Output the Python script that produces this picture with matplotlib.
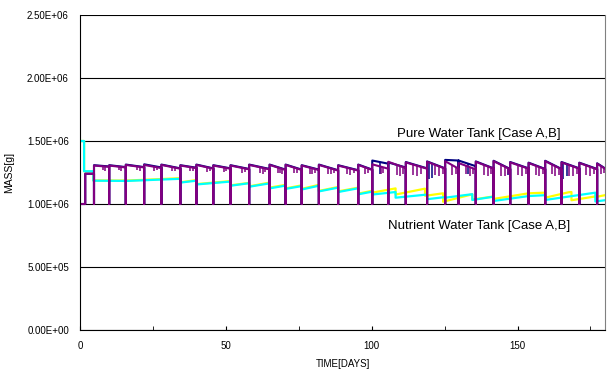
import numpy as np
import matplotlib
matplotlib.use("Agg")
import matplotlib.pyplot as plt

plt.rcParams['font.family'] = ['Liberation Sans', 'DejaVu Sans']

# ---- data (mass in 1e6 g, time in days) ----
# pure water tank: refill days, mass right after refill, mass just before next refill
refill_day = [4.8, 10.0, 15.7, 22.0, 27.9, 34.4, 39.9, 45.7, 51.6, 58.0,
              65.0, 70.5, 76.0, 81.9, 88.5, 95.4, 100.2, 105.7, 111.7, 119.0,
              125.2, 129.8, 135.7, 141.8, 147.5, 153.8, 159.5, 165.1, 171.2, 177.3]
caseB_start = [1.305, 1.305, 1.31, 1.31, 1.31, 1.305, 1.31, 1.305, 1.305, 1.31,
               1.31, 1.31, 1.305, 1.31, 1.305, 1.31, 1.315, 1.335, 1.33, 1.335,
               1.34, 1.325, 1.335, 1.34, 1.33, 1.325, 1.34, 1.33, 1.325, 1.32]
caseB_end = [1.295, 1.29, 1.29, 1.285, 1.28, 1.285, 1.28, 1.28, 1.275, 1.275,
             1.27, 1.27, 1.27, 1.265, 1.265, 1.27, 1.28, 1.285, 1.28, 1.28,
             1.28, 1.275, 1.28, 1.275, 1.28, 1.275, 1.275, 1.28, 1.275, 1.28]
caseA_start = [1.308, 1.308, 1.313, 1.315, 1.313, 1.308, 1.313, 1.308, 1.308, 1.313,
               1.313, 1.313, 1.308, 1.313, 1.308, 1.313, 1.345, 1.33, 1.333, 1.338,
               1.35, 1.345, 1.338, 1.343, 1.333, 1.328, 1.343, 1.333, 1.328, 1.323]
caseA_end = [1.298, 1.293, 1.293, 1.29, 1.283, 1.288, 1.283, 1.283, 1.278, 1.278,
             1.273, 1.273, 1.273, 1.268, 1.268, 1.273, 1.32, 1.29, 1.283, 1.283,
             1.345, 1.30, 1.283, 1.278, 1.283, 1.278, 1.278, 1.283, 1.278, 1.283]

# short downward spikes in the pure water tank
caseB_dip_day = [7.8, 8.6, 13.3, 14.2, 19.6, 20.5, 25.4, 26.3, 31.6, 32.5,
                 37.8, 38.6, 43.5, 44.4, 49.3, 50.2, 55.5, 56.4, 61.8, 62.6,
                 63.5, 67.8, 68.6, 69.4, 73.5, 74.4, 78.8, 79.6, 80.6, 85.0,
                 86.0, 87.0, 91.5, 92.6, 93.8, 97.8, 98.8, 103.2, 104.0, 108.6,
                 109.8, 110.8, 114.2, 115.6, 117.0, 121.8, 123.2, 124.3, 127.5, 128.8,
                 132.2, 133.6, 134.8, 138.6, 139.8, 140.9, 144.2, 145.6, 146.7, 150.2,
                 151.6, 152.8, 156.2, 157.4, 158.6, 161.8, 163.0, 164.2, 167.6, 168.9,
                 170.3, 173.6, 174.9, 176.3, 178.6, 179.6]
caseB_dip_mass = [1.27, 1.265, 1.27, 1.265, 1.27, 1.265, 1.265, 1.27, 1.265, 1.26,
                  1.26, 1.265, 1.255, 1.26, 1.255, 1.26, 1.25, 1.255, 1.25, 1.24,
                  1.255, 1.245, 1.25, 1.24, 1.245, 1.25, 1.24, 1.235, 1.25, 1.24,
                  1.235, 1.25, 1.24, 1.23, 1.245, 1.24, 1.245, 1.235, 1.25, 1.23,
                  1.225, 1.24, 1.23, 1.22, 1.235, 1.23, 1.22, 1.24, 1.23, 1.235,
                  1.24, 1.225, 1.235, 1.23, 1.22, 1.235, 1.225, 1.22, 1.235, 1.23,
                  1.225, 1.24, 1.23, 1.22, 1.235, 1.235, 1.225, 1.23, 1.225, 1.22,
                  1.235, 1.23, 1.225, 1.235, 1.24, 1.245]
caseA_dip_day = [103.0, 119.5, 120.8, 133.0, 146.8, 165.6, 166.8]
caseA_dip_mass = [1.24, 1.20, 1.21, 1.24, 1.23, 1.20, 1.22]

# nutrient water tank
nutA_day = [0, 1.4, 1.4, 4.6, 4.6, 16.0, 34.4, 34.4, 39.9, 39.9,
            51.6, 51.6, 58.0, 58.0, 65.0, 65.0, 70.5, 70.5, 76.0, 76.0,
            81.9, 81.9, 88.5, 88.5, 95.4, 95.4, 100.2, 100.2, 108.2, 108.2,
            119.0, 119.0, 125.2, 125.2, 134.5, 134.5, 141.8, 141.8, 153.8, 159.5,
            159.5, 176.7, 176.7, 180.0]
nutA_mass = [1.5, 1.5, 1.26, 1.26, 1.185, 1.183, 1.2, 1.17, 1.185, 1.155,
             1.178, 1.145, 1.165, 1.137, 1.164, 1.124, 1.146, 1.12, 1.142, 1.115,
             1.145, 1.1, 1.13, 1.095, 1.125, 1.077, 1.098, 1.075, 1.095, 1.05,
             1.075, 1.038, 1.055, 1.05, 1.078, 1.032, 1.058, 1.024, 1.063, 1.07,
             1.032, 1.09, 1.02, 1.03]
nutB_day = [0, 1.4, 1.4, 4.6, 4.6, 16.0, 34.4, 34.4, 39.9, 39.9,
            51.6, 51.6, 58.0, 58.0, 65.0, 65.0, 70.5, 70.5, 76.0, 76.0,
            81.9, 81.9, 88.5, 88.5, 95.4, 95.4, 100.2, 100.2, 108.2, 108.2,
            118.3, 118.3, 124.5, 124.5, 134.5, 134.5, 141.8, 141.8, 153.8, 159.5,
            159.5, 167.5, 168.5, 168.5, 176.7, 176.7, 180.0]
nutB_mass = [1.5, 1.5, 1.26, 1.26, 1.187, 1.186, 1.205, 1.172, 1.19, 1.158,
             1.182, 1.148, 1.168, 1.14, 1.17, 1.13, 1.152, 1.124, 1.148, 1.12,
             1.152, 1.104, 1.135, 1.1, 1.13, 1.082, 1.105, 1.09, 1.124, 1.075,
             1.122, 1.065, 1.085, 1.018, 1.077, 1.035, 1.06, 1.04, 1.085, 1.09,
             1.05, 1.093, 1.095, 1.03, 1.06, 1.055, 1.07]

pure_first_day = [0, 1.8, 1.8]
pure_first_mass = [1.0, 1.0, 1.24]
refill_low = 1.0
t_end = 180.0

yticks = [0, 0.5e6, 1.0e6, 1.5e6, 2.0e6, 2.5e6]
ytick_labels = ["0.00E+00", "5.00E+05", "1.00E+06", "1.50E+06", "2.00E+06", "2.50E+06"]


def pure_line(starts, ends):
    xs = list(pure_first_day)
    ys = list(pure_first_mass)
    for i, d in enumerate(refill_day):
        prev = ys[-1]
        xs += [d, d, d]
        ys += [prev, refill_low, starts[i]]
        nxt = refill_day[i + 1] if i + 1 < len(refill_day) else t_end
        xs.append(nxt)
        ys.append(ends[i])
    return np.array(xs), np.array(ys) * 1e6


def dip_base(days, starts, ends):
    out = []
    for d in days:
        i = np.searchsorted(refill_day, d) - 1
        d0 = refill_day[i]
        d1 = refill_day[i + 1] if i + 1 < len(refill_day) else t_end
        f = (d - d0) / (d1 - d0)
        out.append((starts[i] + f * (ends[i] - starts[i])) * 1e6)
    return out


fig = plt.figure(figsize=(6.13, 3.72), dpi=100)
ax = fig.add_axes([80 / 613, 42 / 372, 525 / 613, 315 / 372])

ax.plot(nutB_day, np.array(nutB_mass) * 1e6, color='#FFFF00', lw=1.6)
ax.plot(nutA_day, np.array(nutA_mass) * 1e6, color='#00FFFF', lw=1.6)

xa, ya = pure_line(caseA_start, caseA_end)
ax.plot(xa, ya, color='#000080', lw=1.5)
ax.vlines(caseA_dip_day, np.array(caseA_dip_mass) * 1e6,
          dip_base(caseA_dip_day, caseA_start, caseA_end), color='#000080', lw=1.1)

xb, yb = pure_line(caseB_start, caseB_end)
ax.plot(xb, yb, color='#800080', lw=1.5)
ax.vlines(caseB_dip_day, np.array(caseB_dip_mass) * 1e6,
          dip_base(caseB_dip_day, caseB_start, caseB_end), color='#800080', lw=1.1)

ax.set_xlim(0, 180)
ax.set_ylim(0, 2.5e6)
ax.set_yticks(yticks)
ax.set_yticklabels(ytick_labels, fontsize=7)
ax.set_xticks([0, 50, 100, 150])
ax.set_xticks([25, 75, 125, 175], minor=True)
ax.tick_params(axis='x', which='both', direction='in', length=3, labelsize=7, pad=8)
ax.tick_params(axis='y', length=0, pad=8)
ax.yaxis.grid(True, color='black', lw=0.8)
ax.set_axisbelow(True)
ax.spines['right'].set_color('#808080')
ax.spines['top'].set_visible(False)

ax.set_xlabel('TIME[DAYS]', fontsize=7, labelpad=6)
ax.set_ylabel('MASS[g]', fontsize=7.5, labelpad=9)

ax.text(108.8, 1.556e6, 'Pure Water Tank [Case A,B]', fontsize=9.5,
        va='center', ha='left')
ax.text(105.7, 0.825e6, 'Nutrient Water Tank [Case A,B]', fontsize=9.5,
        va='center', ha='left')

fig.savefig('out.png', dpi=100)
